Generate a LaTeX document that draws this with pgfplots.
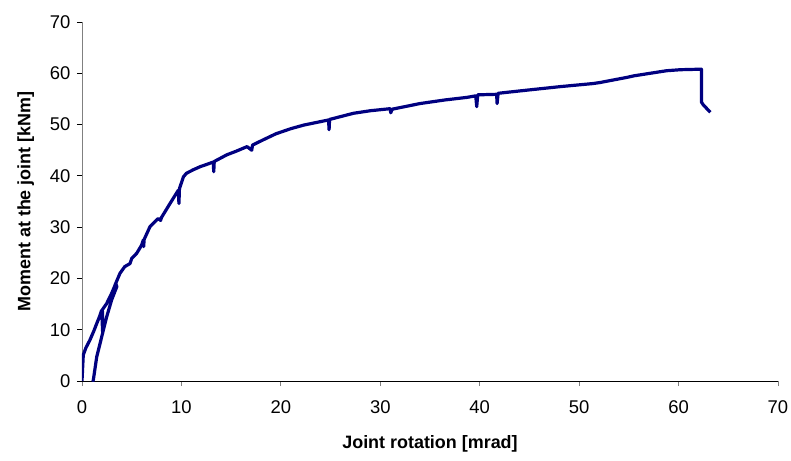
\documentclass[border=0pt]{standalone}
\usepackage{fontspec}
\setmainfont{Liberation Sans}
\usepackage{pgfplots}
\pgfplotsset{compat=1.18}
\definecolor{curveNavy}{HTML}{000080}
\definecolor{axGrey}{HTML}{808080}

\pgfplotstableread{
rot mom
0.00 0.0
0.05 2.0
0.13 5.1
0.40 6.5
0.80 8.0
1.20 9.8
1.48 11.2
1.75 12.5
1.98 13.8
2.08 9.3
2.05 13.9
2.48 15.1
2.98 17.1
3.40 19.0
3.50 18.4
2.98 15.8
2.48 12.5
1.98 8.6
1.48 4.7
1.14 0.2
1.10 0.0
1.14 0.2
1.48 4.7
1.98 8.6
2.48 12.5
2.98 15.8
3.32 18.7
3.82 21.0
4.30 22.3
4.83 22.9
5.00 23.9
5.50 24.9
6.00 26.5
6.17 27.5
6.20 26.2
6.25 27.6
6.84 30.1
7.30 31.0
7.68 31.7
7.90 31.3
8.00 31.9
8.85 34.6
9.30 36.0
9.69 37.2
9.75 34.6
9.80 37.5
10.20 39.8
10.50 40.5
11.20 41.2
11.90 41.8
12.50 42.2
13.20 42.7
13.25 40.8
13.30 42.8
14.56 44.1
15.50 44.8
16.60 45.7
17.07 45.0
17.15 46.0
18.20 47.0
19.50 48.2
21.00 49.2
22.30 49.9
24.80 50.9
24.85 49.0
24.90 51.0
27.30 52.2
29.00 52.7
31.00 53.1
31.05 52.3
31.20 53.0
34.00 54.1
36.50 54.8
38.70 55.3
39.60 55.6
39.70 53.5
39.80 55.8
41.70 55.9
41.75 54.1
41.85 56.1
44.70 56.7
48.10 57.4
51.40 58.0
52.10 58.2
54.80 59.2
55.50 59.5
57.80 60.2
58.80 60.5
60.20 60.7
62.30 60.8
62.30 54.4
62.50 53.8
63.20 52.4
}\jointdata

\begin{document}
\begin{tikzpicture}
\begin{axis}[
  scale only axis, width=696bp, height=359bp,
  xmin=0, xmax=70, ymin=0, ymax=70,
  xtick={0,10,...,70}, ytick={0,10,...,70},
  axis x line=bottom, axis y line=left,
  x axis line style={-, black, line width=0.8pt},
  y axis line style={-, axGrey, line width=1pt},
  tick align=outside, major tick length=5bp,
  x tick style={axGrey, line width=0.8pt},
  y tick style={black, line width=0.8pt},
  tick label style={font=\fontsize{18.5}{22}\selectfont},
  /pgf/number format/assume math mode=true,
  xticklabel style={yshift=-11bp},
  yticklabel style={xshift=-3bp},
  xlabel={\bfseries Joint rotation [mrad]},
  ylabel={\bfseries Moment at the joint [kNm]},
  label style={font=\fontsize{18}{22}\selectfont},
  xlabel style={yshift=-15bp},
  ylabel style={yshift=9bp},
]
\addplot[curveNavy, line width=3.2bp, line join=round, no marks] table[x=rot, y=mom] {\jointdata};
\end{axis}
\pgfresetboundingbox
\path (-82bp,-80bp) rectangle (709bp,381bp);
\end{tikzpicture}
\end{document}
